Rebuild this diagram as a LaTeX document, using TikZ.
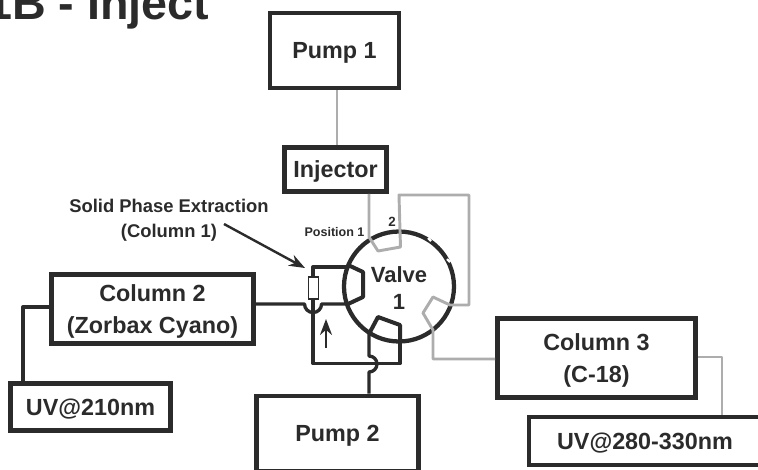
\documentclass[tikz,border=0pt]{standalone}
\usepackage{fontspec}
\setmainfont{Liberation Sans}
\usetikzlibrary{arrows.meta}
\definecolor{ink}{gray}{0.17}
\definecolor{tube}{gray}{0.68}
\newcommand{\upr}{\rule{0pt}{16pt}}
\tikzset{
 x=0.75pt,y=-0.75pt,
 box/.style={draw=ink,line width=3.6pt,fill=white,inner sep=0pt,text=ink,font=\bfseries\fontsize{17.5}{24}\selectfont,align=center,anchor=center},
 dark/.style={draw=ink,line width=2.5pt,line join=round},
 lite/.style={draw=tube,line width=2.2pt,line join=round},
 lab/.style={text=ink,font=\bfseries,inner sep=0pt},
 ptr/.style={draw=ink,line width=1.8pt,-{Stealth[length=12pt,width=9pt]}}
}
\newcommand{\pxbox}[6][]{\node[box,minimum width=#4*0.75pt,minimum height=#5*0.75pt,#1] (#2) at (#3) {\upr #6};}
\begin{document}
\begin{tikzpicture}
\useasboundingbox (0,0) rectangle (758,469);
\clip (0,0) rectangle (758,469);
\node[lab,font=\bfseries\fontsize{35}{35}\selectfont,anchor=base west] (title) at (-14,19.5) {1B - Inject};
\pxbox{pump1}{334.5,50.5}{129}{75}{Pump 1}
\pxbox{inj}{335.5,169.5}{102}{44}{Injector}
\pxbox{col2}{152.5,309}{202}{69}{Column 2\\(Zorbax Cyano)}
\pxbox{uv1}{90.5,407}{160}{47}{UV@210nm}
\pxbox{pump2}{337.5,433.5}{162}{75}{Pump 2}
\pxbox{col3}{596.5,358}{198}{79}{Column 3\\(C-18)}
\pxbox{uv2}{645,441}{232}{48}{UV@280-330nm}
% valve
\node[draw=ink,line width=3.2pt,circle,minimum size=110*0.75pt,inner sep=0pt] (valve) at (399,286.5) {};
\draw[white,line width=1.6pt] (428,238) -- (431,241) (447,259) -- (450,262);
% grey tubing
\coordinate (pa) at (369,237);
\coordinate (pb) at (400,231);
\coordinate (pc) at (450,305);
\coordinate (pd) at (433,330);
\draw[lite] (337,0 |- pump1.south) -- (337,0 |- inj.north);
\draw[lite] (369,0 |- inj.south) -- (pa) -- (378,251) -- (400.5,247) -- (pb) -- (399,195) -- (469,195) -- (469,305) -- (pc) -- (433,297) -- (423,313) -- (pd) -- (433,359) -- (col3.west |- 0,359);
\draw[lite] (col3.east |- 0,357) -- (722,357) -- (722,0 |- uv2.north);
\node[lab,font=\bfseries\fontsize{16.5}{16.5}\selectfont] (vlab) at (399,275) {Valve};
\node[lab,font=\bfseries\fontsize{16.5}{16.5}\selectfont] (vnum) at (399,302) {1};
\node[lab,font=\bfseries\fontsize{9.4}{9.4}\selectfont] (plab) at (334.5,232) {Position 1};
\node[lab,font=\bfseries\fontsize{10}{10}\selectfont] (two) at (392,222) {2};
% internal valve links
\draw[ink,line width=3pt,line join=round] (348,265) -- (363,272) -- (363,297) -- (348,304);
\draw[ink,line width=3pt,line join=round] (370,332) -- (378,317) -- (400,325) -- (400,343);
% dark lines
\draw[dark] (348,267) -- (313,267) -- (313,363.5) -- (400,363.5) -- (400,343);
\draw[dark] (col2.east |- 0,304) -- (304.5,304) arc[start angle=180,end angle=360,radius=6.4pt] -- (348,304);
\draw[dark] (369,332) -- (369,356) arc[start angle=90,end angle=-90,radius=6pt] -- (369,0 |- pump2.north);
\draw[dark] (col2.west |- 0,307) -- (23,307) -- (23,0 |- uv1.north);
\node[draw=ink,fill=white,line width=1.4pt,minimum width=10*0.75pt,minimum height=22*0.75pt,inner sep=0pt] (spe) at (313.5,288) {};
% labels and pointers
\node[lab,font=\bfseries\fontsize{13.8}{18.6}\selectfont,align=center] (spelab) at (169,220) {Solid Phase Extraction\\(Column 1)};
\coordinate (sa) at (224,224);
\coordinate (sb) at (305,268);
\draw[ptr] (sa) -- (sb);
\coordinate (aa) at (326,348);
\coordinate (ab) at (326,319);
\draw[ptr] (aa) -- (ab);
\end{tikzpicture}
\end{document}
